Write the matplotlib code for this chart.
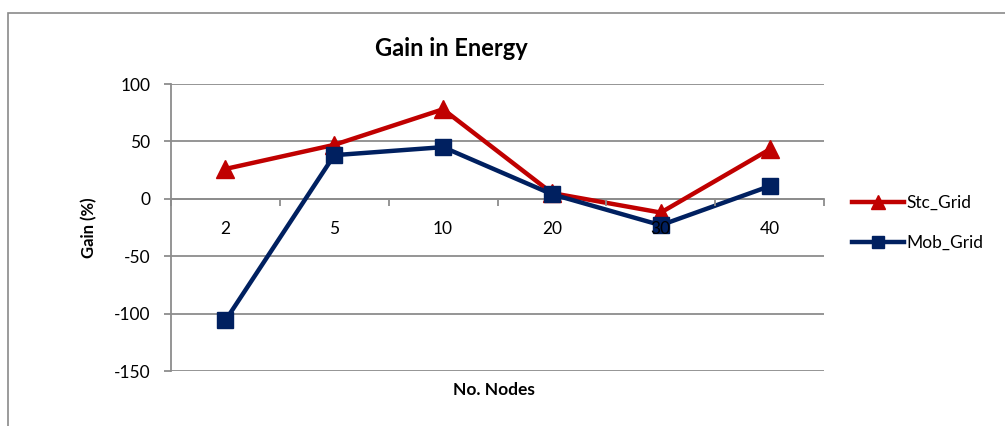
import numpy as np
import matplotlib
matplotlib.use("Agg")
import matplotlib.pyplot as plt
from matplotlib.patches import Rectangle
from matplotlib.ticker import FixedLocator, NullFormatter

plt.rcParams['font.family'] = ['Lato', 'DejaVu Sans']
plt.rcParams['axes.unicode_minus'] = False

nodes = ['2', '5', '10', '20', '30', '40']
stc_grid = [26, 47, 78, 5, -12, 43]
mob_grid = [-106, 38, 45, 4, -23, 11]
y_ticks = [-150, -100, -50, 0, 50, 100]

red = '#C00000'
navy = '#002060'
grey = '#8C8C8C'

fig = plt.figure(figsize=(10.05, 4.26), dpi=100)
# outer chart frame, runs off the right and bottom edges
fig.patches.append(Rectangle((8 / 1005, -0.1), 1.2, 1 - 12.5 / 426 + 0.1,
                             transform=fig.transFigure, fill=False,
                             edgecolor='#8A8A8A', linewidth=1.2))

ax = fig.add_axes([171 / 1005, 1 - 371 / 426, 653 / 1005, 287 / 426])
x = np.arange(len(nodes))

ax.plot(x, stc_grid, color=red, linewidth=3.2, marker='^', markersize=13,
        label='Stc_Grid', zorder=3, clip_on=False)
ax.plot(x, mob_grid, color=navy, linewidth=3.2, marker='s', markersize=12,
        label='Mob_Grid', zorder=4, clip_on=False)

ax.set_xlim(-0.5, len(nodes) - 0.5)
ax.set_ylim(-150, 100)
ax.set_yticks(y_ticks)
ax.yaxis.grid(True, color=grey, linewidth=1.3)
ax.set_axisbelow(True)

for side in ['top', 'right']:
    ax.spines[side].set_visible(False)
ax.spines['left'].set_color(grey)
ax.spines['left'].set_linewidth(1.3)
ax.spines['bottom'].set_position(('data', 0))
ax.spines['bottom'].set_color(grey)
ax.spines['bottom'].set_linewidth(1.3)

# category labels sit under the zero line, tick marks at the boundaries
ax.set_xticks(x)
ax.set_xticklabels(nodes)
ax.tick_params(axis='x', which='major', length=0, pad=16, labelsize=12.5)
ax.xaxis.set_minor_locator(FixedLocator(np.arange(-0.5, len(nodes), 1.0)))
ax.xaxis.set_minor_formatter(NullFormatter())
ax.tick_params(axis='x', which='minor', length=5, width=1.3, color=grey)
ax.tick_params(axis='y', length=5, width=1.3, color=grey, labelsize=12.5, pad=10)
# labels drawn over the markers
ax.xaxis.set_zorder(5)

fig.text(89 / 1005, 1 - 228 / 426, 'Gain (%)', ha='center', va='center',
         rotation=90, fontsize=12, fontweight='bold')
fig.text(494 / 1005, 1 - 390 / 426, 'No. Nodes', ha='center', va='center',
         fontsize=12.5, fontweight='bold')
fig.text(451 / 1005, 1 - 48 / 426, 'Gain in Energy', ha='center', va='center',
         fontsize=17, fontweight='bold')

fig.legend(loc='center left', bbox_to_anchor=(852 / 1005, 1 - 223 / 426),
           frameon=False, fontsize=12.5, handlelength=3.0, handletextpad=0.15,
           labelspacing=1.35, markerscale=0.75, borderpad=0, borderaxespad=0)

fig.savefig('out.png', dpi=100)
